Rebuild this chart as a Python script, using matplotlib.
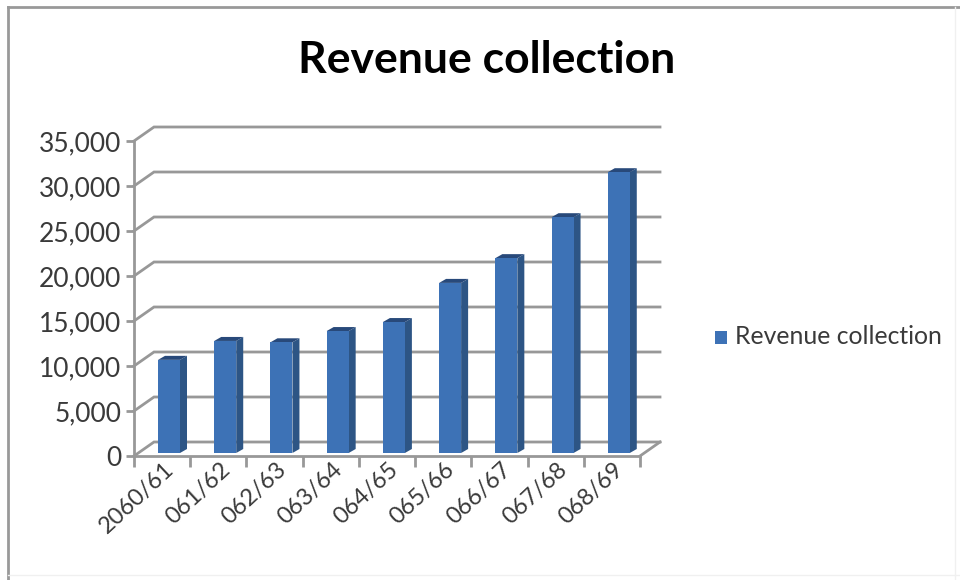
import matplotlib
matplotlib.use("Agg")
import matplotlib.pyplot as plt
from matplotlib.lines import Line2D
from matplotlib.patches import Polygon, Rectangle

plt.rcParams["font.family"] = ["Lato", "DejaVu Sans"]

years = ["2060/61", "061/62", "062/63", "063/64", "064/65",
         "065/66", "066/67", "067/68", "068/69"]
revenue = [10350, 12450, 12300, 13550, 14550, 18900, 21650, 26200, 31200]
y_ticks = [0, 5000, 10000, 15000, 20000, 25000, 30000, 35000]

W, H = 960, 580
fig = plt.figure(figsize=(W / 100, H / 100), dpi=100, facecolor="white")
ax = fig.add_axes([134 / W, 1 - 456 / H, 506 / W, 315 / H])
ax.set_xlim(0, len(years))
ax.set_ylim(0, 35000)
ax.patch.set_alpha(0)

# Oblique projection: one unit of depth in axis units
px_x = len(years) / 506
px_y = 35000 / 315
depth_x = 20 * px_x
depth_y = 14 * px_y
GRID = "#989898"
TEXT = "#3a3a3a"

# Gridlines climb from the front plane to the back wall and run across it
for v in y_ticks:
    ax.plot([0, depth_x, len(years) + depth_x], [v, v + depth_y, v + depth_y],
            color=GRID, lw=2, clip_on=False, zorder=1, solid_joinstyle="miter")
ax.plot([len(years), len(years) + depth_x], [0, depth_y],
        color=GRID, lw=2, clip_on=False, zorder=1)

# Each bar is a box: front, side and top faces
front_left = 24 * px_x
front_w = 22 * px_x
inset_y = 3 * px_y
side_x, side_y = 7 * px_x, 4 * px_y
for i, v in enumerate(revenue):
    x0 = i + front_left
    x1 = x0 + front_w
    y0 = inset_y
    y1 = v + inset_y
    ax.add_patch(Polygon([(x1, y0), (x1 + side_x, y0 + side_y),
                          (x1 + side_x, y1 + side_y), (x1, y1)],
                         fc="#2d5585", ec="none", clip_on=False, zorder=3))
    ax.add_patch(Polygon([(x0, y1), (x0 + side_x, y1 + side_y),
                          (x1 + side_x, y1 + side_y), (x1, y1)],
                         fc="#28497a", ec="none", clip_on=False, zorder=3))
    ax.add_patch(Rectangle((x0, y0), front_w, y1 - y0,
                           fc="#3d72b6", ec="none", clip_on=False, zorder=4))

for side in ("top", "right"):
    ax.spines[side].set_visible(False)
for side in ("left", "bottom"):
    ax.spines[side].set_color(GRID)
    ax.spines[side].set_linewidth(2)
    ax.spines[side].set_zorder(2)

ax.set_yticks(y_ticks)
ax.set_yticklabels([f"{v:,}" for v in y_ticks], fontsize=19, color=TEXT)
ax.tick_params(axis="y", length=6, width=2, color=GRID, pad=3)

ax.set_xticks(range(len(years) + 1))
ax.set_xticklabels([])
ax.tick_params(axis="x", which="major", length=8, width=2, color=GRID)
ax.set_xticks([i + 0.52 for i in range(len(years))], minor=True)
ax.set_xticklabels(years, minor=True, rotation=43, ha="right", va="top",
                   rotation_mode="anchor", fontsize=17, color=TEXT)
ax.tick_params(axis="x", which="minor", length=0, pad=2)

fig.text(487 / W, 1 - 60 / H, "Revenue collection", ha="center", va="center",
         fontsize=32, fontweight="bold", color="black")

# Legend key and label
fig.add_artist(Rectangle((715 / W, 1 - 344 / H), 12 / W, 13 / H,
                         fc="#3d72b6", ec="none", transform=fig.transFigure))
fig.text(735 / W, 1 - 337 / H, "Revenue collection", ha="left", va="center",
         fontsize=17.8, color=TEXT)

# Chart-area border: strong on the top and left, faint on the other two sides
fig.add_artist(Line2D([8 / W, 8 / W], [1 - 7 / H, 0], color="#999999", lw=2))
fig.add_artist(Line2D([8 / W, 1], [1 - 7 / H, 1 - 7 / H], color="#999999", lw=2))
fig.add_artist(Line2D([955 / W, 955 / W], [1 - 7 / H, 0], color="#f0f0f0", lw=1))
fig.add_artist(Line2D([8 / W, 1], [1 - 575 / H, 1 - 575 / H], color="#f0f0f0", lw=1))

fig.savefig("out.png", dpi=100, facecolor="white")
